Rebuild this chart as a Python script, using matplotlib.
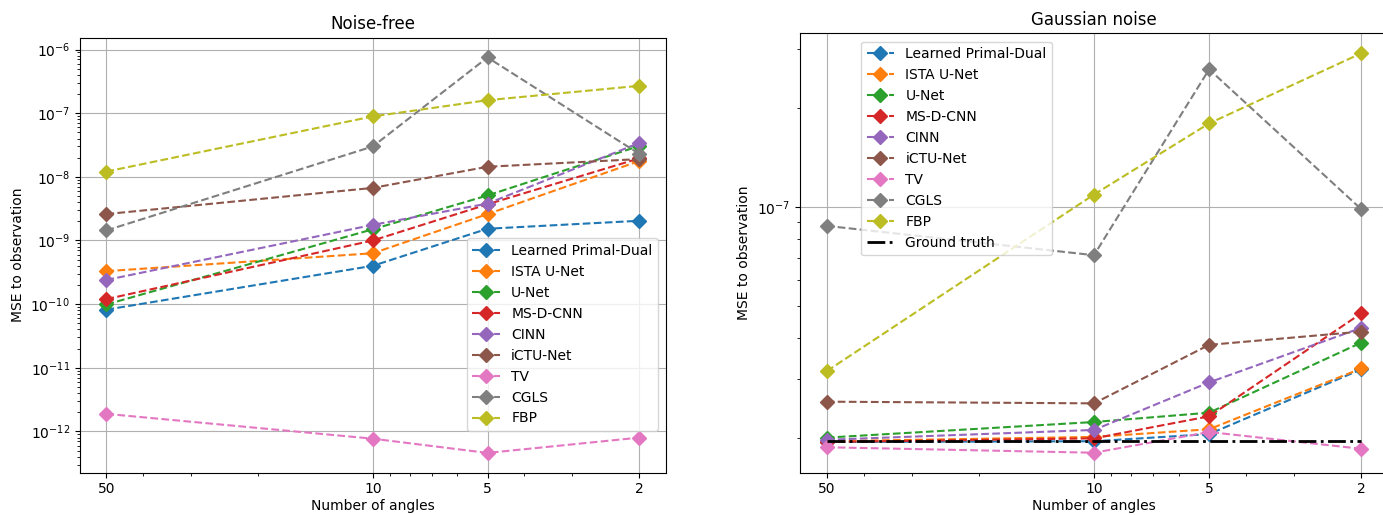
import matplotlib
matplotlib.use("Agg")
import matplotlib.pyplot as plt
from matplotlib.ticker import NullFormatter

angles = [50, 10, 5, 2]
methods = ["Learned Primal-Dual", "ISTA U-Net", "U-Net", "MS-D-CNN", "CINN",
           "iCTU-Net", "TV", "CGLS", "FBP"]

# Noise-free MSE to observation
nf_lpd = [8.2e-11, 4.0e-10, 1.53e-9, 2.04e-9]
nf_ista = [3.3e-10, 6.3e-10, 2.6e-9, 1.77e-8]
nf_unet = [9.9e-11, 1.5e-9, 5.1e-9, 3.05e-8]
nf_msd = [1.2e-10, 1.0e-9, 3.7e-9, 1.95e-8]
nf_cinn = [2.4e-10, 1.76e-9, 3.8e-9, 3.4e-8]
nf_ictu = [2.6e-9, 6.7e-9, 1.44e-8, 1.9e-8]
nf_tv = [1.89e-12, 7.7e-13, 4.6e-13, 8.0e-13]
nf_cgls = [1.44e-9, 3.0e-8, 7.5e-7, 2.3e-8]
nf_fbp = [1.21e-8, 8.9e-8, 1.6e-7, 2.69e-7]

# Gaussian noise MSE to observation
gn_lpd = [1.94e-8, 1.95e-8, 2.05e-8, 3.22e-8]
gn_ista = [1.95e-8, 2.01e-8, 2.12e-8, 3.24e-8]
gn_unet = [2.0e-8, 2.23e-8, 2.38e-8, 3.88e-8]
gn_msd = [1.94e-8, 1.99e-8, 2.32e-8, 4.76e-8]
gn_cinn = [1.97e-8, 2.11e-8, 2.94e-8, 4.3e-8]
gn_ictu = [2.57e-8, 2.54e-8, 3.82e-8, 4.19e-8]
gn_tv = [1.87e-8, 1.80e-8, 2.08e-8, 1.85e-8]
gn_cgls = [8.76e-8, 7.14e-8, 2.61e-7, 9.84e-8]
gn_fbp = [3.18e-8, 1.09e-7, 1.79e-7, 2.92e-7]
gn_truth = [1.95e-8, 1.95e-8, 1.95e-8, 1.95e-8]

noise_free = [nf_lpd, nf_ista, nf_unet, nf_msd, nf_cinn, nf_ictu, nf_tv, nf_cgls, nf_fbp]
gaussian = [gn_lpd, gn_ista, gn_unet, gn_msd, gn_cinn, gn_ictu, gn_tv, gn_cgls, gn_fbp]

W, H = 1383, 515
fig = plt.figure(figsize=(W / 100, H / 100), dpi=100)
ax1 = fig.add_axes([79.8 / W, 42.3 / H, 586 / W, 435 / H])
ax2 = fig.add_axes([800 / W, 42.3 / H, 588 / W, 439.4 / H])


def setup(ax, title):
    ax.set_xscale("log")
    ax.set_yscale("log")
    ax.set_xticks(angles)
    ax.set_xticklabels([str(a) for a in angles])
    ax.xaxis.set_minor_formatter(NullFormatter())
    ax.yaxis.set_minor_formatter(NullFormatter())
    ax.invert_xaxis()
    ax.grid(True, which="major")
    ax.set_title(title)
    ax.set_xlabel("Number of angles", labelpad=2)
    ax.set_ylabel("MSE to observation")


for name, vals in zip(methods, noise_free):
    ax1.plot(angles, vals, "D--", markersize=7, label=name)
for name, vals in zip(methods, gaussian):
    ax2.plot(angles, vals, "D--", markersize=7, label=name)
ax2.plot(angles, gn_truth, "-.", color="black", linewidth=2, label="Ground truth")

setup(ax1, "Noise-free")
setup(ax2, "Gaussian noise")

ax1.legend(loc="lower right", bbox_to_anchor=((658 - 79.8) / 586, (472.7 - 431) / 435),
           borderaxespad=0)
ax2.legend(loc="upper left", bbox_to_anchor=((861 - 800) / 588, (472.7 - 41.7) / 439.4),
           borderaxespad=0)

fig.savefig("out.png", dpi=100)
